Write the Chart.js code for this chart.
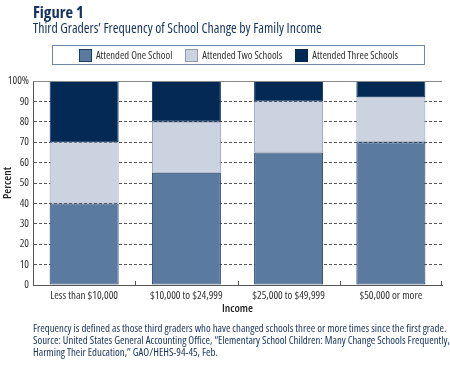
<!DOCTYPE html>
<html>
<head>
<meta charset="utf-8">
<script src="https://cdn.jsdelivr.net/npm/chart.js@4.4.0/dist/chart.umd.min.js"></script>
<style>
  html, body { margin: 0; padding: 0; background: #fff; }
  body { width: 450px; height: 366px; position: relative; overflow: hidden;
         font-family: "Open Sans", "Liberation Sans", Arial, sans-serif; font-stretch: 75%; }
  #fig { position: absolute; left: 33px; top: 0px; font-size: 16.5px; font-weight: 700; color: #16335f; }
  #sub { position: absolute; left: 33px; top: 18px; font-size: 13.8px; color: #16335f; }
  #legend { position: absolute; left: 52px; top: 45px; width: 373px; height: 20px; box-sizing: border-box;
            border: 1px solid #6f86a6; display: flex; justify-content: center; align-items: center; gap: 13px;
            font-size: 10.6px; color: #333; }
  #legend .item { display: flex; align-items: center; }
  #legend .sw { width: 13px; height: 13px; margin-right: 4px; box-sizing: border-box; border: 1px solid; }
  #chart-wrap { position: absolute; left: 0; top: 0; width: 450px; height: 366px; }
  #notes { position: absolute; left: 33px; top: 322px; font-size: 10.8px; line-height: 11.9px; color: #16335f; white-space: nowrap; }
</style>
</head>
<body>
<div id="chart-wrap"><canvas id="chart"></canvas></div>
<div id="fig">Figure 1</div>
<div id="sub">Third Graders’ Frequency of School Change by Family Income</div>
<div id="legend"></div>
<div id="notes">Frequency is defined as those third graders who have changed schools three or more times since the first grade.<br>Source: United States General Accounting Office, “Elementary School Children: Many Change Schools Frequently,<br>Harming Their Education,” GAO/HEHS-94-45, Feb.</div>
<script>
// categories and series
const incomeLabels = ['Less than $10,000', '$10,000 to $24,999', '$25,000 to $49,999', '$50,000 or more'];
const seriesNames  = ['Attended One School', 'Attended Two Schools', 'Attended Three Schools'];
const oneSchool    = [40, 55, 65, 70];
const twoSchools   = [30, 25, 25, 22];
const threeSchools = [30, 20, 10, 8];
const yTicks       = [0, 10, 20, 30, 40, 50, 60, 70, 80, 90, 100];

const fills   = ['#5b7a9f', '#cbd2e0', '#022a55'];
const borders = ['#1d3a63', '#8d9bb5', '#022a55'];
const seriesData = [oneSchool, twoSchools, threeSchools];

// condensed face of Open Sans (weight slot carries the stretch keyword)
const FAMILY = '"Open Sans", "Liberation Sans", Arial';
const labelFont = { family: FAMILY, size: 11, weight: 'condensed' };
const titleFont = { family: FAMILY, size: 11.5, weight: '600 condensed' };

// html legend
const legendEl = document.getElementById('legend');
seriesNames.forEach(function(name, i) {
  const item = document.createElement('div');
  item.className = 'item';
  item.innerHTML = '<span class="sw" style="background:' + fills[i] + ';border-color:' + borders[i] + '"></span>' + name;
  legendEl.appendChild(item);
});

// small tick marks at category boundaries and the solid 100% line
const frameMarks = {
  id: 'frameMarks',
  afterDatasetsDraw(chart) {
    const x = chart.scales.x, y = chart.scales.y;
    const ctx = chart.ctx;
    const base = y.getPixelForValue(0);
    ctx.save();
    ctx.strokeStyle = '#555';
    ctx.lineWidth = 1;
    for (let i = 1; i <= incomeLabels.length; i++) {
      const px = i === incomeLabels.length ? x.right - 0.5
        : Math.round((x.getPixelForValue(i - 1) + x.getPixelForValue(i)) / 2) + 0.5;
      ctx.beginPath();
      ctx.moveTo(px, base);
      ctx.lineTo(px, base - 4);
      ctx.stroke();
    }
    const top = Math.round(y.getPixelForValue(100)) + 0.5;
    ctx.strokeStyle = '#8a8a8a';
    ctx.beginPath();
    ctx.moveTo(x.left, top);
    ctx.lineTo(x.right, top);
    ctx.stroke();
    ctx.restore();
  }
};

new Chart(document.getElementById('chart'), {
  type: 'bar',
  data: {
    labels: incomeLabels,
    datasets: seriesData.map(function(d, i) {
      return {
        label: seriesNames[i],
        data: d,
        backgroundColor: fills[i],
        borderColor: borders[i],
        borderWidth: 1,
        borderSkipped: false,
        barPercentage: 0.675,
        categoryPercentage: 1.0
      };
    })
  },
  options: {
    responsive: true,
    maintainAspectRatio: false,
    animation: false,
    layout: { padding: { top: 81, right: 8, bottom: 50, left: 0 } },
    plugins: {
      legend: { display: false },
      tooltip: { enabled: false }
    },
    scales: {
      x: {
        stacked: true,
        grid: { display: false, drawTicks: false },
        border: { display: true, color: '#555', width: 1 },
        ticks: { color: '#333', font: labelFont, padding: 4, maxRotation: 0, autoSkip: false },
        title: { display: true, text: 'Income', color: '#222', font: titleFont, padding: { top: 4, bottom: 0 } },
        afterFit: function(s) { s.height = 31; }
      },
      y: {
        stacked: true,
        min: 0, max: 100,
        afterBuildTicks: function(s) { s.ticks = yTicks.map(function(v) { return { value: v }; }); },
        grid: {
          drawTicks: false,
          color: function(c) { return (c.tick.value === 0 || c.tick.value === 100) ? 'rgba(0,0,0,0)' : '#555'; }
        },
        border: { display: true, color: '#555', width: 1, dash: [3, 2] },
        ticks: {
          color: '#333', padding: 4, font: labelFont,
          callback: function(v) { return v === 100 ? '100%' : v; }
        },
        title: { display: true, text: 'Percent', color: '#222', font: titleFont, padding: { top: 1, bottom: 0 } },
        afterFit: function(s) { s.width = 33; }
      }
    }
  },
  plugins: [frameMarks]
});
</script>
</body>
</html>
